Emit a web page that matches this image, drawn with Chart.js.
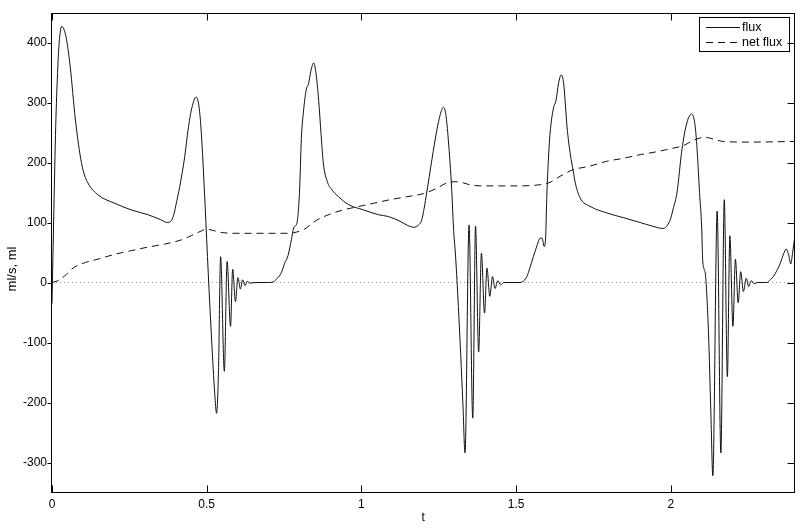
<!DOCTYPE html>
<html>
<head>
<meta charset="utf-8">
<script src="https://cdn.jsdelivr.net/npm/chart.js@4.4.1/dist/chart.umd.min.js"></script>
<style>
  body { margin: 0; background: #fff; }
  #wrap { width: 803px; height: 528px; }
</style>
</head>
<body>
<div id="wrap"><canvas id="myChart" width="803" height="528"></canvas></div>
<script>
// values
const fluxT = [0, 0.006, 0.012, 0.018, 0.024, 0.032, 0.040, 0.047, 0.059, 0.075, 0.090, 0.100, 0.116, 0.149, 0.203, 0.256, 0.310, 0.350, 0.373, 0.384, 0.393, 0.403, 0.413, 0.429, 0.440, 0.452, 0.466, 0.476, 0.484, 0.495, 0.505, 0.516, 0.526, 0.532, 0.538, 0.545, 0.557, 0.566, 0.577, 0.584, 0.593, 0.601, 0.609, 0.616, 0.624, 0.631, 0.640, 0.660, 0.700, 0.716, 0.728, 0.741, 0.752, 0.763, 0.774, 0.782, 0.791, 0.800, 0.806, 0.813, 0.822, 0.829, 0.837, 0.846, 0.853, 0.862, 0.870, 0.877, 0.890, 0.904, 0.926, 0.958, 1.007, 1.055, 1.087, 1.125, 1.150, 1.170, 1.185, 1.195, 1.211, 1.228, 1.244, 1.255, 1.265, 1.273, 1.281, 1.292, 1.296, 1.299, 1.303, 1.311, 1.321, 1.328, 1.335, 1.348, 1.360, 1.369, 1.379, 1.388, 1.398, 1.406, 1.415, 1.424, 1.432, 1.441, 1.450, 1.460, 1.513, 1.525, 1.535, 1.545, 1.556, 1.568, 1.578, 1.584, 1.591, 1.596, 1.599, 1.604, 1.610, 1.621, 1.629, 1.637, 1.646, 1.654, 1.665, 1.675, 1.685, 1.691, 1.707, 1.739, 1.793, 1.847, 1.901, 1.940, 1.976, 1.990, 1.998, 2.009, 2.020, 2.036, 2.052, 2.068, 2.079, 2.086, 2.093, 2.100, 2.103, 2.108, 2.112, 2.122, 2.130, 2.136, 2.150, 2.162, 2.173, 2.183, 2.191, 2.201, 2.209, 2.218, 2.226, 2.235, 2.244, 2.252, 2.260, 2.270, 2.280, 2.311, 2.322, 2.332, 2.343, 2.354, 2.365, 2.373, 2.381, 2.388, 2.394, 2.400]
const fluxV = [-35, 120, 260, 350, 405, 427, 420, 405, 359, 274, 215, 188, 166, 146, 132, 121, 113, 105, 100, 102, 112, 135, 160, 210, 255, 291, 309, 290, 238, 127, 16, -96, -185, -218, -151, 43, -148, 35, -73, 22, -32, 8, -11, 4.5, -5, 2, -1, 0, 0, 1, 7, 16, 32, 45, 72, 92, 98, 150, 240, 286, 322, 331, 353, 366, 350, 303, 245, 199, 168, 155, 143, 130, 121, 113, 110, 102, 95, 92, 96, 104, 149, 205, 254, 280, 292, 280, 238, 155, 110, 80, 55, -15, -120, -200, -284, 96, -226, 94, -116, 49, -51, 24, -23, 10, -10, 3, -4, 0, 0, 3, 10, 25, 43, 62, 74, 74, 60, 80, 138, 200, 249, 291, 303, 331, 346, 331, 258, 215, 185, 167, 141, 127, 116, 108, 100, 94, 90, 96, 104, 125, 149, 221, 266, 281, 260, 215, 150, 91, 40, 22, 14, -84, -223, -322, 119, -284, 138, -157, 78, -73, 39, -34, 18, -15, 7, -7, 3, -2, 0, 0, 5, 10, 20, 32, 48, 56, 46, 31, 50, 73]

const netT = [0, 0.019, 0.041, 0.068, 0.095, 0.149, 0.203, 0.256, 0.310, 0.364, 0.418, 0.450, 0.483, 0.499, 0.526, 0.553, 0.600, 0.700, 0.769, 0.790, 0.813, 0.856, 0.899, 0.942, 0.985, 1.039, 1.093, 1.147, 1.200, 1.244, 1.276, 1.303, 1.330, 1.357, 1.400, 1.500, 1.578, 1.610, 1.642, 1.685, 1.739, 1.793, 1.847, 1.901, 1.955, 2.009, 2.041, 2.073, 2.111, 2.138, 2.170, 2.250, 2.400]
const netV = [0, 3, 11, 24, 31, 39, 47, 53, 59, 64, 71, 78, 86, 89, 86, 83, 82, 82, 82, 84, 88, 104, 114, 121, 126, 132, 138, 143, 148, 157, 166, 168, 166, 162, 161, 161, 163, 167, 177, 188, 194, 202, 207, 213, 218, 224, 228, 237, 242, 239, 235, 234, 235]

const zeroT = [0, 2.4]
const zeroV = [0, 0]

const seriesNames = ['flux', 'net flux']
const xTicks = [0, 0.5, 1, 1.5, 2]
const yTicks = [-300, -200, -100, 0, 100, 200, 300, 400]
const xTitle = 't'
const yTitle = 'ml/s, ml'

const font = 'Liberation Sans, Arial, sans-serif'

function pts(ts, vs) {
  return ts.map((t, i) => ({x: t, y: vs[i]}))
}

// box, inward ticks, legend and axis titles
const frame = {
  id: 'frame',
  afterDatasetsDraw(chart) {
    const {ctx, chartArea: a, scales: {x, y}} = chart
    const L = Math.round(a.left) - 0.5
    const R = Math.round(a.right) - 0.5
    const T = Math.round(a.top) + 0.5
    const B = Math.round(a.bottom) - 0.5
    ctx.save()
    ctx.strokeStyle = '#000'
    ctx.lineWidth = 1
    ctx.setLineDash([])
    ctx.strokeRect(L, T, R - L, B - T)

    // legend
    const lx = 699.5, ly = 17.5, lw = 90, lh = 34
    ctx.fillStyle = '#fff'
    ctx.fillRect(lx, ly, lw, lh)
    ctx.strokeRect(lx, ly, lw, lh)
    ctx.font = '12.5px ' + font
    ctx.textBaseline = 'middle'
    ctx.textAlign = 'left'
    const ds = chart.data.datasets
    ;[0, 1].forEach(i => {
      const yy = ly + 10 + i * 15
      ctx.strokeStyle = ds[i].borderColor
      ctx.setLineDash(ds[i].borderDash || [])
      ctx.beginPath()
      ctx.moveTo(706, yy)
      ctx.lineTo(740, yy)
      ctx.stroke()
      ctx.fillStyle = '#000'
      ctx.fillText(ds[i].label, 742, yy + 0.5)
    })

    ctx.setLineDash([])
    ctx.strokeStyle = '#000'
    ctx.beginPath()
    xTicks.forEach(v => {
      const px = Math.round(x.getPixelForValue(v)) + 0.5
      ctx.moveTo(px, B); ctx.lineTo(px, B - 7)
      ctx.moveTo(px, T); ctx.lineTo(px, T + 7)
    })
    yTicks.forEach(v => {
      const py = Math.round(y.getPixelForValue(v)) + 0.5
      ctx.moveTo(L - 4, py); ctx.lineTo(L, py)
      ctx.moveTo(R, py); ctx.lineTo(R - 7, py)
    })
    ctx.stroke()

    // axis titles
    ctx.fillStyle = '#000'
    ctx.font = '12px ' + font
    ctx.textAlign = 'center'
    ctx.fillText(xTitle, (a.left + a.right) / 2, 518)
    ctx.font = '13px ' + font
    ctx.translate(12, 269)
    ctx.rotate(-Math.PI / 2)
    ctx.fillText(yTitle, 0, 0)
    ctx.restore()
  }
}

const ctx = document.getElementById('myChart')
const myChart = new Chart(ctx, {
  type: 'line',
  data: {
    datasets: [
      {
        label: seriesNames[0],
        data: pts(fluxT, fluxV),
        borderColor: '#111',
        borderWidth: 1,
        pointRadius: 0,
        cubicInterpolationMode: 'monotone',
        order: 1
      },
      {
        label: seriesNames[1],
        data: pts(netT, netV),
        borderColor: '#111',
        borderWidth: 1,
        borderDash: [7, 5],
        pointRadius: 0,
        cubicInterpolationMode: 'monotone',
        order: 2
      },
      {
        label: 'zero',
        data: pts(zeroT, zeroV),
        borderColor: '#999',
        borderWidth: 1,
        borderDash: [1, 3],
        pointRadius: 0,
        order: 3
      }
    ]
  },
  options: {
    responsive: false,
    animation: false,
    events: [],
    layout: { padding: { left: 0, right: 8.5, top: 12.5, bottom: 0 } },
    plugins: { legend: { display: false }, tooltip: { enabled: false } },
    scales: {
      x: {
        type: 'linear',
        min: 0,
        max: 2.4,
        grid: { display: false, drawTicks: false },
        border: { display: false },
        afterBuildTicks: s => { s.ticks = xTicks.map(v => ({value: v})) },
        afterFit: s => { s.height = 35.5 },
        ticks: {
          padding: 5,
          maxRotation: 0,
          color: '#000',
          font: { family: font, size: 12 },
          callback: v => String(v)
        }
      },
      y: {
        min: -350,
        max: 450,
        grid: { display: false, drawTicks: false },
        border: { display: false },
        afterBuildTicks: s => { s.ticks = yTicks.map(v => ({value: v})) },
        afterFit: s => { s.width = 52 },
        ticks: {
          padding: 5,
          color: '#000',
          font: { family: font, size: 12 },
          callback: v => String(v)
        }
      }
    }
  },
  plugins: [frame]
})
</script>
</body>
</html>
